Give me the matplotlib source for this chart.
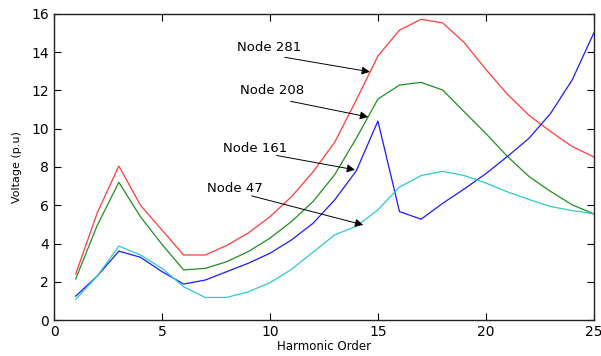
import matplotlib
matplotlib.use("Agg")
import matplotlib.pyplot as plt

harmonic_order = list(range(1, 26))

node_281 = [2.4, 5.6, 8.05, 6.0, 4.7, 3.4, 3.4, 3.9, 4.55, 5.4, 6.45, 7.75, 9.3, 11.5,
            13.8, 15.15, 15.72, 15.53, 14.5, 13.1, 11.8, 10.7, 9.85, 9.07, 8.52]
node_208 = [2.15, 4.95, 7.2, 5.4, 3.95, 2.62, 2.7, 3.05, 3.58, 4.28, 5.15, 6.2, 7.6, 9.5,
            11.55, 12.28, 12.42, 12.02, 10.88, 9.75, 8.55, 7.5, 6.72, 6.02, 5.55]
node_161 = [1.25, 2.3, 3.6, 3.28, 2.53, 1.88, 2.09, 2.53, 2.97, 3.49, 4.19, 5.06, 6.28, 7.8,
            10.4, 5.67, 5.27, 6.1, 6.85, 7.65, 8.55, 9.5, 10.8, 12.55, 15.0]
node_47 = [1.08, 2.3, 3.87, 3.4, 2.7, 1.74, 1.18, 1.18, 1.48, 1.95, 2.65, 3.55, 4.45, 4.9,
           5.76, 6.95, 7.55, 7.77, 7.55, 7.16, 6.7, 6.3, 5.93, 5.72, 5.55]

labels = ["Node 281", "Node 208", "Node 161", "Node 47"]
label_xy = [(9.95, 14.24), (10.12, 11.99), (9.31, 8.97), (8.36, 6.86)]
arrow_tail = [(10.69, 13.73), (10.96, 11.43), (10.31, 8.60), (9.15, 6.49)]
arrow_head = [(14.63, 12.97), (14.55, 10.61), (13.94, 7.85), (14.32, 4.97)]

fig = plt.figure(figsize=(6.01, 3.56), dpi=100)
ax = fig.add_axes([0.09, 0.101, 0.898, 0.860])

# matlab-ish colours, a bit washed out like the original
ax.plot(harmonic_order, node_281, color="#ff3b3b", lw=0.9)
ax.plot(harmonic_order, node_208, color="#1f8f1f", lw=0.9)
ax.plot(harmonic_order, node_161, color="#1a1aff", lw=0.9)
ax.plot(harmonic_order, node_47, color="#2ccaca", lw=0.9)

for lab, (tx, ty), (sx, sy), (ex, ey) in zip(labels, label_xy, arrow_tail, arrow_head):
    ax.text(tx, ty, lab, ha="center", va="center", fontsize=9.5)
    ax.annotate("", xy=(ex, ey), xytext=(sx, sy),
                arrowprops=dict(arrowstyle="-|>", color="black", lw=0.7,
                                mutation_scale=12, shrinkA=0, shrinkB=0))

ax.set_xlim(0, 25)
ax.set_ylim(0, 16)
ax.set_xticks(range(0, 26, 5))
ax.set_yticks(range(0, 17, 2))
ax.tick_params(direction="in", top=True, right=True, length=5, labelsize=10, width=0.8)
for s in ax.spines.values():
    s.set_linewidth(1.0)
    s.set_color("#222222")
ax.set_xlabel("Harmonic Order", fontsize=8.5, labelpad=1)
ax.set_ylabel("Voltage (p.u)", fontsize=8, labelpad=7)

plt.savefig("out.png", dpi=100)
